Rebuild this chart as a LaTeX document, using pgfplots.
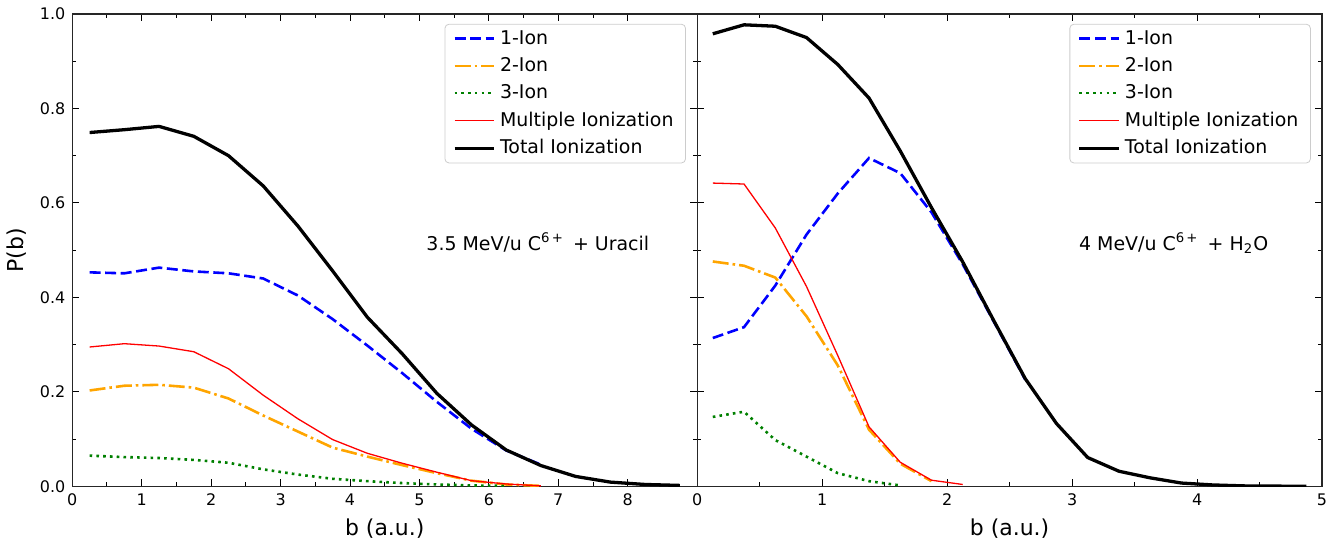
\documentclass[border=0pt]{standalone}
\usepackage{fontspec}
\setmainfont{DejaVu Sans}
\usepackage{pgfplots}
\pgfplotsset{compat=1.18}

\definecolor{mplorange}{RGB}{255,165,0}
\definecolor{mplgreen}{RGB}{0,128,0}

\pgfplotsset{
  panel/.style={
    scale only axis, width=313.5pt, height=237pt,
    ymin=0, ymax=1, xmin=0,
    ytick={0,0.2,...,1.0},
    minor y tick num=1, minor x tick num=1,
    tick align=inside, ticks=both,
    major tick length=3.5pt, minor tick length=2pt,
    every tick/.style={black, line width=0.5pt},
    axis line style={line width=0.6pt, black!85},
    tick label style={font=\fontsize{8}{9}\selectfont},
    label style={font=\fontsize{11}{13}\selectfont},
    /pgf/number format/assume math mode=true,
    yticklabel style={/pgf/number format/.cd, fixed, fixed zerofill, precision=1},
    xlabel={b (a.u.)},
    legend cell align=left,
    legend style={at={(0.982,0.979)}, anchor=north east, draw=black!20, rounded corners=2pt,
      font=\fontsize{9.5}{11}\selectfont, row sep=1.15pt, inner xsep=4pt, inner ysep=1pt},
    legend image code/.code={\draw[##1, mark=none] (0pt,0pt) -- (20pt,0pt);},
  },
  one/.style={blue, line width=1.3pt, dash pattern=on 5.5pt off 2.3pt},
  two/.style={mplorange, line width=1.3pt, dash pattern=on 8pt off 2pt on 1.3pt off 2pt},
  three/.style={mplgreen, line width=1.3pt, dash pattern=on 1.3pt off 2.1pt},
  multi/.style={red, line width=0.65pt, line join=round},
  total/.style={black, line width=1.65pt, line join=round},
}

\begin{document}
\begin{tikzpicture}
\begin{axis}[panel, name=left, xmax=9, xtick={0,1,...,8}, ylabel={P(b)}]
\addplot[one] coordinates {
 (0.25,0.453) (0.75,0.451) (1.25,0.463) (1.75,0.455) (2.25,0.451) (2.75,0.440)
 (3.25,0.404) (3.75,0.354) (4.25,0.298) (4.75,0.240) (5.25,0.179) (5.75,0.122)
 (6.25,0.076) (6.75,0.046)};
\addlegendentry{1-Ion}
\addplot[two] coordinates {
 (0.25,0.203) (0.75,0.213) (1.25,0.215) (1.75,0.209) (2.25,0.186) (2.75,0.150)
 (3.25,0.116) (3.75,0.082) (4.25,0.063) (4.75,0.045) (5.25,0.028) (5.75,0.012)
 (6.25,0.004) (6.75,0.001)};
\addlegendentry{2-Ion}
\addplot[three] coordinates {
 (0.25,0.065) (0.75,0.062) (1.25,0.060) (1.75,0.056) (2.25,0.050) (2.75,0.036)
 (3.25,0.025) (3.75,0.016) (4.25,0.011) (4.75,0.007) (5.25,0.004) (5.75,0.002)
 (6.25,0.001)};
\addlegendentry{3-Ion}
\addplot[multi] coordinates {
 (0.25,0.295) (0.75,0.302) (1.25,0.297) (1.75,0.285) (2.25,0.249) (2.75,0.193)
 (3.25,0.143) (3.75,0.099) (4.25,0.070) (4.75,0.049) (5.25,0.030) (5.75,0.012)
 (6.25,0.005) (6.75,0.001)};
\addlegendentry{Multiple Ionization}
\addplot[total] coordinates {
 (0.25,0.749) (0.75,0.755) (1.25,0.762) (1.75,0.741) (2.25,0.700) (2.75,0.636)
 (3.25,0.551) (3.75,0.456) (4.25,0.358) (4.75,0.281) (5.25,0.197) (5.75,0.130)
 (6.25,0.077) (6.75,0.044) (7.25,0.021) (7.75,0.009) (8.25,0.004) (8.75,0.002)};
\addlegendentry{Total Ionization}
\node[anchor=base west, font=\fontsize{9.5}{11}\selectfont] at (axis cs:5,0.5)
  {3.5 MeV/u C\textsuperscript{6\,+}\, + Uracil};
\end{axis}

\begin{axis}[panel, name=right, at={(left.south east)}, anchor=south west,
  xmax=5, xtick={0,1,...,5}, yticklabels={}]
\addplot[one] coordinates {
 (0.125,0.314) (0.375,0.337) (0.625,0.425) (0.875,0.533) (1.125,0.620) (1.375,0.695)
 (1.625,0.663) (1.875,0.580) (2.125,0.470) (2.375,0.348) (2.625,0.226)};
\addlegendentry{1-Ion}
\addplot[two] coordinates {
 (0.125,0.476) (0.375,0.467) (0.625,0.442) (0.875,0.360) (1.125,0.256) (1.375,0.120)
 (1.625,0.048) (1.875,0.011)};
\addlegendentry{2-Ion}
\addplot[three] coordinates {
 (0.125,0.147) (0.375,0.158) (0.625,0.098) (0.875,0.063) (1.125,0.028) (1.375,0.011)
 (1.625,0.002)};
\addlegendentry{3-Ion}
\addplot[multi] coordinates {
 (0.125,0.642) (0.375,0.640) (0.625,0.547) (0.875,0.423) (1.125,0.277) (1.375,0.126)
 (1.625,0.051) (1.875,0.013) (2.125,0.004)};
\addlegendentry{Multiple Ionization}
\addplot[total] coordinates {
 (0.125,0.958) (0.375,0.977) (0.625,0.974) (0.875,0.950) (1.125,0.893) (1.375,0.822)
 (1.625,0.710) (1.875,0.590) (2.125,0.475) (2.375,0.350) (2.625,0.228) (2.875,0.133)
 (3.125,0.061) (3.375,0.032) (3.625,0.018) (3.875,0.007) (4.125,0.003) (4.375,0.001)
 (4.625,0.0005) (4.875,0.0003)};
\addlegendentry{Total Ionization}
\node[anchor=base west, font=\fontsize{9.5}{11}\selectfont] at (axis cs:3,0.5)
  {4 MeV/u C\textsuperscript{6\,+}\, + H\textsubscript{2}O};
\end{axis}
\path ([shift={(-33.5pt,-25.5pt)}]left.south west) rectangle ([shift={(7.5pt,7pt)}]right.north east);
\end{tikzpicture}
\end{document}
